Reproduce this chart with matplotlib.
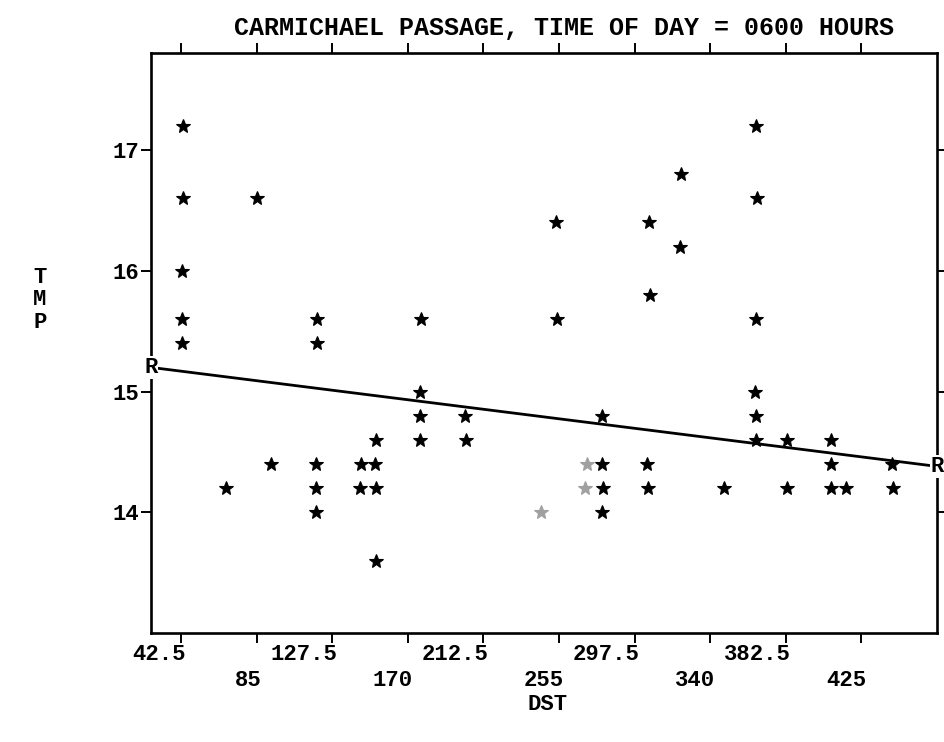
import matplotlib
matplotlib.use("Agg")
import matplotlib.pyplot as plt
from matplotlib.ticker import FixedLocator
from matplotlib.transforms import ScaledTranslation

title = "CARMICHAEL PASSAGE, TIME OF DAY = 0600 HOURS"

# DST / TMP readings (stars)
dst = [43.5, 43.5, 85.5, 43.0, 43.0, 119.0, 177.5, 43.0, 119.0,
       177.0, 177.0, 202.0, 152.0, 177.0, 202.5, 93.0, 118.5, 143.5, 151.5,
       68.0, 118.5, 143.0, 152.0, 118.5, 152.0,
       366.0, 323.5, 366.5, 253.5, 305.5, 323.0, 306.0, 254.0, 365.5,
       279.0, 279.0, 304.5, 279.5, 305.0, 279.0, 347.5,
       365.0, 365.5, 365.5, 383.0, 408.0, 408.0, 442.0, 383.0, 408.0, 416.5, 442.5]
tmp = [17.2, 16.6, 16.6, 16.0, 15.6, 15.6, 15.6, 15.4, 15.4,
       15.0, 14.8, 14.8, 14.6, 14.6, 14.6, 14.4, 14.4, 14.4, 14.4,
       14.2, 14.2, 14.2, 14.2, 14.0, 13.6,
       17.2, 16.8, 16.6, 16.4, 16.4, 16.2, 15.8, 15.6, 15.6,
       14.8, 14.4, 14.4, 14.2, 14.2, 14.0, 14.2,
       15.0, 14.8, 14.6, 14.6, 14.6, 14.4, 14.4, 14.2, 14.2, 14.2, 14.2]

# stars that came out faint in the print
faint_dst = [270.5, 269.5, 245.0]
faint_tmp = [14.4, 14.2, 14.0]

# regression line, marked with R at both ends
reg_dst = [25.5, 467.5]
reg_tmp = [15.2, 14.38]

xticks_upper = [42.5, 127.5, 212.5, 297.5, 382.5]
xticks_lower = [85, 170, 255, 340, 425]
yticks = [14, 15, 16, 17]

plt.rcParams["font.family"] = ["Liberation Mono", "DejaVu Sans Mono"]
plt.rcParams["font.weight"] = "bold"

fig = plt.figure(figsize=(9.45, 7.42), dpi=100)
ax = fig.add_axes([0.1595, 0.1468, 0.8321, 0.7813])
ax.set_xlim(25.5, 467.5)
ax.set_ylim(13.0, 17.8)

ax.plot(dst, tmp, ls="none", marker="*", ms=10, mfc="black", mec="black", mew=0.8)
ax.plot(faint_dst, faint_tmp, ls="none", marker="*", ms=10, color="#a0a0a0", mew=0.8)
ax.plot(reg_dst, reg_tmp, color="black", lw=2.0, clip_on=False)
for x, y in zip(reg_dst, reg_tmp):
    ax.text(x, y, "R", ha="center", va="center", fontsize=16, clip_on=False, zorder=5,
            bbox=dict(fc="white", ec="none", pad=0.5))

# axis ticks: labels on two staggered rows along the bottom
ax.xaxis.set_major_locator(FixedLocator(xticks_upper))
ax.xaxis.set_minor_locator(FixedLocator(xticks_lower))
ax.set_xticklabels([f"{v:g}" for v in xticks_upper])
ax.set_xticklabels([f"{v:g}" for v in xticks_lower], minor=True)
ax.set_yticks(yticks)
ax.set_yticklabels([str(v) for v in yticks])

ax.tick_params(which="both", direction="out", top=True, right=True,
               length=7.5, width=1.4, labelsize=16, colors="black")
ax.tick_params(axis="x", which="major", pad=0.5)
ax.tick_params(axis="x", which="minor", pad=19)
ax.tick_params(axis="y", pad=1)

shift = ScaledTranslation(0.05, 0, fig.dpi_scale_trans)
for lab in ax.get_xticklabels(which="both"):
    lab.set_ha("right")
    lab.set_transform(lab.get_transform() + shift)

for sp in ax.spines.values():
    sp.set_linewidth(1.9)

fig.text(564 / 945, 1 - 28 / 742, title, ha="center", va="center", fontsize=18)
fig.text(548 / 945, 1 - 705 / 742, "DST", ha="center", va="center", fontsize=16)
fig.text(40 / 945, 1 - 300 / 742, "T\nM\nP", ha="center", va="center",
         fontsize=16, linespacing=1.1)

fig.savefig("out.png", dpi=100)
